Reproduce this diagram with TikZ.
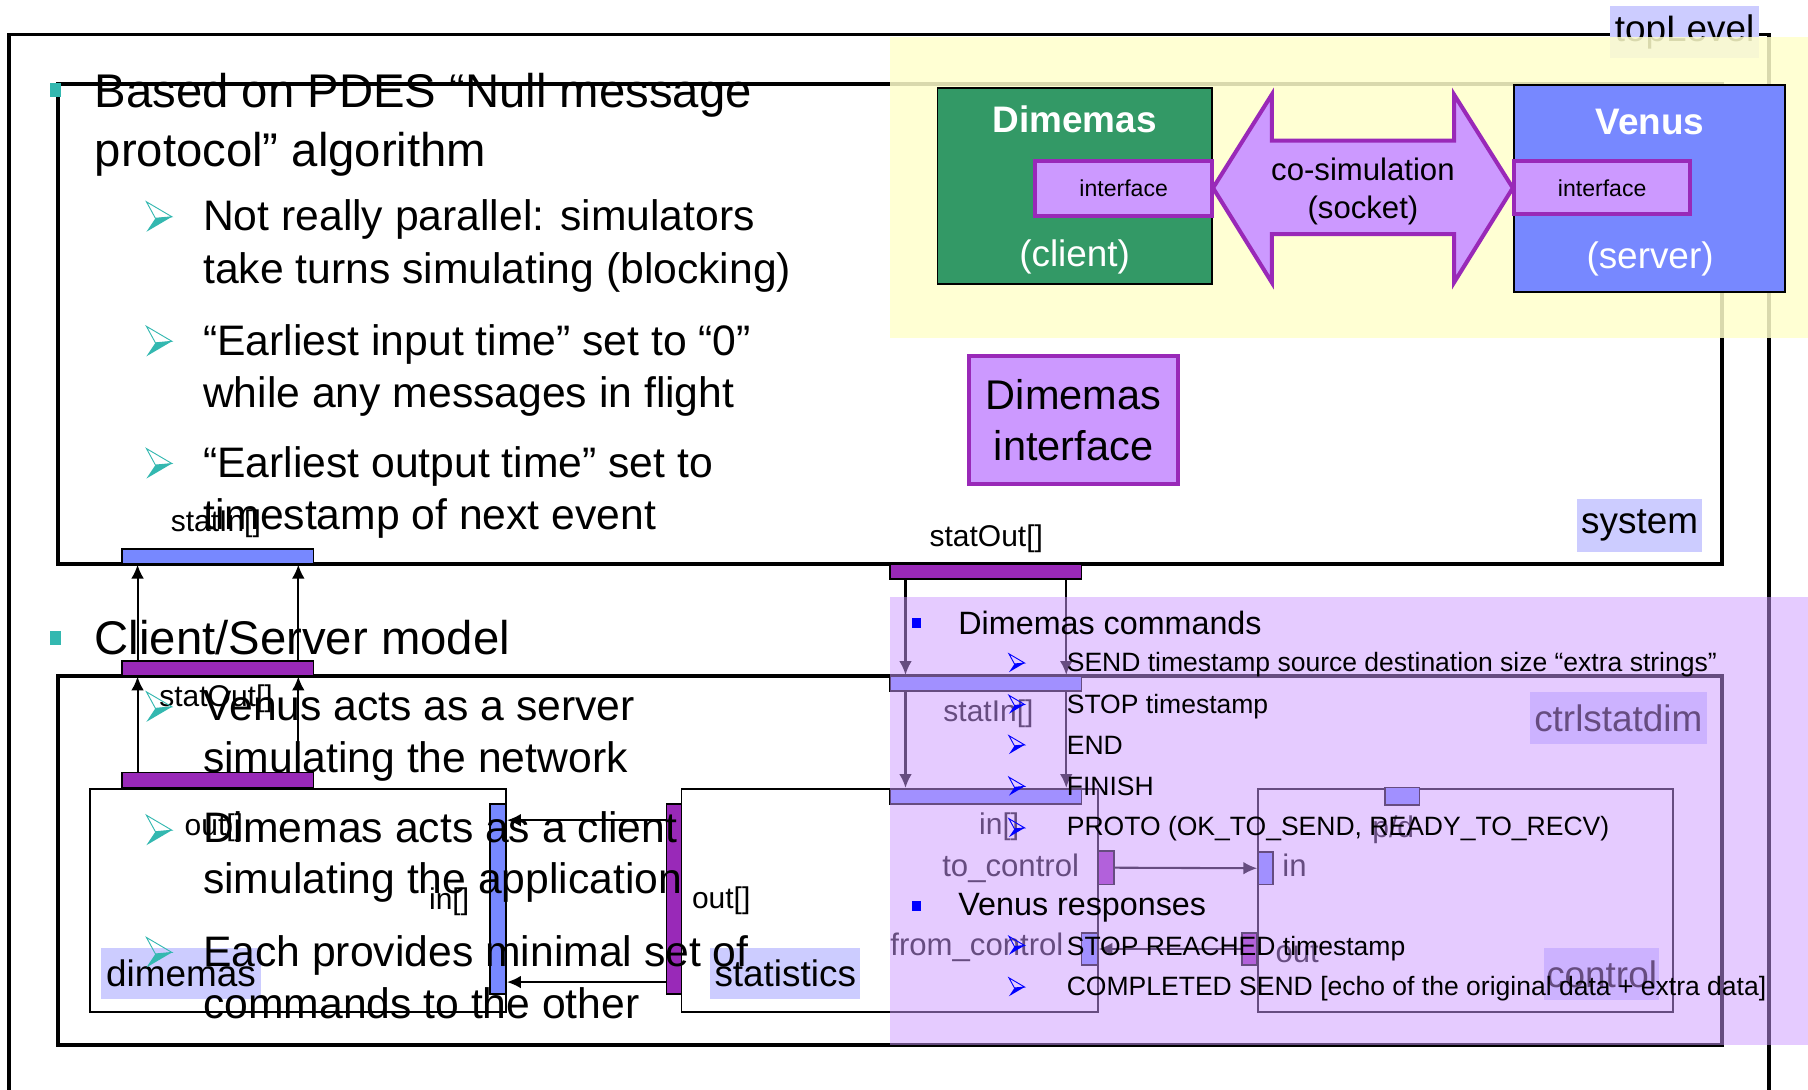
\documentclass[tikz,border=0pt]{standalone}
\usepackage{fontspec}
\setmainfont{Liberation Sans}
\usetikzlibrary{arrows.meta}

\definecolor{portblue}{RGB}{119,136,255}
\definecolor{portpurple}{RGB}{153,41,184}
\definecolor{lilac}{RGB}{204,153,255}
\definecolor{lblue}{RGB}{204,204,255}
\definecolor{dgreen}{RGB}{51,153,102}
\definecolor{paleyellow}{RGB}{255,255,204}
\definecolor{bullteal}{RGB}{51,184,176}
\definecolor{bullblue}{RGB}{0,0,255}

\newcommand{\fsz}[1]{\fontsize{#1}{#1}\selectfont}
% arrow-head bullet: x, y (centre), half height, colour
\newcommand{\arrowbul}[4]{%
  \draw[#4,line width=0.8pt,line join=miter] (#1,#2-#3) -- (#1+1.7*#3,#2) -- (#1+0.6*#3,#2+0.1*#3) -- cycle;
  \fill[#4] (#1+0.6*#3,#2+0.1*#3) -- (#1+1.7*#3,#2) -- (#1,#2+#3) -- cycle;}

\begin{document}
\begin{tikzpicture}[x=1pt,y=-1pt,>={Latex[length=12pt,width=11pt]},
  bigbox/.style={draw,line width=3.5pt,inner sep=0pt},
  subbox/.style={draw,line width=1.6pt,inner sep=0pt},
  portb/.style={draw,line width=1.4pt,fill=portblue,inner sep=0pt},
  portp/.style={draw,line width=1.4pt,fill=portpurple,inner sep=0pt},
  lbl/.style={fill=lblue,inner sep=0pt,font=\fsz{32}},
  plabel/.style={anchor=base west,inner sep=0pt,font=\fsz{26}},
  head/.style={anchor=base west,inner sep=0pt,font=\fsz{41}},
  slide/.style={anchor=base west,inner sep=0pt,font=\fsz{37}},
  cmdhead/.style={anchor=base west,inner sep=0pt,font=\fsz{28}},
  cmd/.style={anchor=base west,inner sep=0pt,font=\fsz{23}},
  iface/.style={draw=portpurple,line width=3.5pt,fill=lilac,inner sep=0pt},
  link/.style={->,line width=1.8pt}]
\useasboundingbox (0,0) rectangle (1568,945);
\fill[white] (0,0) rectangle (1568,945);

% model frames
\draw[line width=3pt] (8,945) -- (8,30) -- (1534,30) -- (1534,945);
\node[lbl,minimum width=129pt,minimum height=45pt] (toplbl) at (1461,28) {topLevel};
\node[bigbox,minimum width=1443pt,minimum height=416pt] (system) at (771.5,281) {};
\node[lbl,minimum width=108pt,minimum height=46pt] (syslbl) at (1422,456) {system};
\node[bigbox,minimum width=1443pt,minimum height=320pt] (ctrlstatdim) at (771.5,746) {};
\node[lbl,minimum width=153pt,minimum height=45pt] (csdlbl) at (1403.5,623) {ctrlstatdim};
\node[subbox,minimum width=361pt,minimum height=194pt] (dimemas) at (258.5,781) {};
\node[lbl,minimum width=138pt,minimum height=44pt] (dimlbl) at (157,844) {dimemas};
\node[subbox,minimum width=361pt,minimum height=194pt] (statistics) at (771.5,781) {};
\node[lbl,minimum width=130pt,minimum height=44pt] (statlbl) at (681,844) {statistics};
\node[subbox,minimum width=360pt,minimum height=194pt] (control) at (1271,781) {};
\node[lbl,minimum width=100pt,minimum height=45pt] (ctrllbl) at (1389,845) {control};

% ports
\node[portb,minimum width=166pt,minimum height=13pt] (statin) at (189,482.5) {};
\node[portp,minimum width=166pt,minimum height=13pt] (statout) at (189,579.5) {};
\node[portp,minimum width=166pt,minimum height=13pt] (dimout) at (189,676.5) {};
\node[portb,minimum width=14pt,minimum height=165pt] (dimin) at (432,779.5) {};
\node[portp,minimum width=13pt,minimum height=165pt] (statsout) at (584.5,779.5) {};
\node[portp,minimum width=166pt,minimum height=13pt] (sysout) at (855,495.5) {};
\node[portb,minimum width=166pt,minimum height=13pt] (csdin) at (855,592.5) {};
\node[portb,minimum width=166pt,minimum height=13pt] (statsin) at (855,690.5) {};
\node[portp,minimum width=14pt,minimum height=29pt] (tocontrol) at (959,752.5) {};
\node[portb,minimum width=14pt,minimum height=28pt] (fromcontrol) at (945,823) {};
\node[portb,minimum width=13pt,minimum height=28pt] (ctrlin) at (1097.5,753) {};
\node[portp,minimum width=13pt,minimum height=28pt] (ctrlout) at (1083.5,823) {};
\node[portb,minimum width=30pt,minimum height=15pt] (ctrltop) at (1216,690.5) {};

% connections
\draw[link] ([xshift=14pt]dimout.north west) -- ([xshift=14pt]statout.south west);
\draw[link] ([xshift=-14pt]dimout.north east) -- ([xshift=-14pt]statout.south east);
\draw[link] ([xshift=14pt]statout.north west) -- ([xshift=14pt]statin.south west);
\draw[link] ([xshift=-14pt]statout.north east) -- ([xshift=-14pt]statin.south east);
\draw[link] ([yshift=-15pt]statsout.north west) -- ([yshift=-15pt]dimin.north east);
\draw[link] ([yshift=11pt]statsout.south west) -- ([yshift=11pt]dimin.south east);
\draw[link] ([xshift=14pt]sysout.south west) -- ([xshift=14pt]csdin.north west);
\draw[link] ([xshift=-14pt]sysout.south east) -- ([xshift=-14pt]csdin.north east);
\draw[link] ([xshift=14pt]csdin.south west) -- ([xshift=14pt]statsin.north west);
\draw[link] ([xshift=-14pt]csdin.south east) -- ([xshift=-14pt]statsin.north east);
\draw[link] (tocontrol.east) -- (ctrlin.west);
\draw[link] (ctrlout.west) -- (fromcontrol.east);

% port labels
\node[plabel] (statinlbl) at (148,461) {statIn[]};
\node[plabel] (statoutlbl) at (138,613) {statOut[]};
\node[plabel] (dimoutlbl) at (160,725) {out[]};
\node[plabel] (diminlbl) at (372,789) {in[]};
\node[plabel] (statsoutlbl) at (600,788) {out[]};
\node[plabel] (sysoutlbl) at (806,474) {statOut[]};
\node[plabel] (csdinlbl) at (818,626) {statIn[]};
\node[plabel] (statsinlbl) at (849,724) {in[]};
\node[plabel,font=\fsz{27}] (tocontrollbl) at (817,760) {to\_control};
\node[plabel,font=\fsz{27}] (fromcontrollbl) at (772,829) {from\_control};
\node[plabel,font=\fsz{27}] (ctrlinlbl) at (1112,760) {in};
\node[plabel,font=\fsz{27}] (ctrloutlbl) at (1106,835) {out};
\node[plabel] (ctrltoplbl) at (1190,726) {p/d};

% slide text, left column
\fill[bullteal] (43,72) rectangle (53,84);
\node[head] (b1a) at (82,93) {Based on PDES “Null message};
\node[head] (b1b) at (82,144) {protocol” algorithm};
\arrowbul{127}{188}{13}{bullteal}
\node[slide] (s1a) at (176,200) {Not really parallel: simulators};
\node[slide] (s1b) at (176,246) {take turns simulating (blocking)};
\arrowbul{127}{296}{13}{bullteal}
\node[slide] (s2a) at (176,308) {“Earliest input time” set to “0”};
\node[slide] (s2b) at (176,353) {while any messages in flight};
\arrowbul{127}{402}{13}{bullteal}
\node[slide] (s3a) at (176,414) {“Earliest output time” set to};
\node[slide] (s3b) at (176,459) {timestamp of next event};
\fill[bullteal] (43,547) rectangle (53,559);
\node[head] (b2a) at (82,568) {Client/Server model};
\arrowbul{127}{613}{13}{bullteal}
\node[slide] (s4a) at (176,625) {Venus acts as a server};
\node[slide] (s4b) at (176,670) {simulating the network};
\arrowbul{127}{720}{13}{bullteal}
\node[slide] (s5a) at (176,731) {Dimemas acts as a client};
\node[slide] (s5b) at (176,775) {simulating the application};
\arrowbul{127}{826}{13}{bullteal}
\node[slide] (s6a) at (176,838) {Each provides minimal set of};
\node[slide] (s6b) at (176,883) {commands to the other};

% co-simulation picture
\fill[paleyellow,opacity=0.85] (772,32) rectangle (1568,293);
\node[draw,line width=1.6pt,fill=dgreen,minimum width=238pt,minimum height=170pt] (dimbox) at (932,161) {};
\node[anchor=base,inner sep=0pt,text=white,font=\fsz{32}\bfseries] (dimname) at (932,115) {Dimemas};
\node[anchor=base,inner sep=0pt,text=white,font=\fsz{32}] (dimrole) at (932,231) {(client)};
\node[draw,line width=1.6pt,fill=portblue,minimum width=235pt,minimum height=179pt] (venbox) at (1430.5,163.5) {};
\node[anchor=base,inner sep=0pt,text=white,font=\fsz{32}\bfseries] (venname) at (1431,117) {Venus};
\node[anchor=base,inner sep=0pt,text=white,font=\fsz{32}] (venrole) at (1431,233) {(server)};
\draw[portpurple,fill=lilac,line width=3.5pt,line join=miter]
  (1052,163) -- (1103,82) -- (1103,122) -- (1261,122) -- (1261,82) -- (1312,163)
  -- (1261,245) -- (1261,203) -- (1103,203) -- (1103,245) -- cycle;
\node[align=center,inner sep=0pt,font=\fontsize{27}{33}\selectfont] (cosim) at (1182,166) {co-simulation\\(socket)};
\node[iface,minimum width=153pt,minimum height=47pt,font=\fsz{20}] (dimif) at (974.5,163.5) {interface};
\node[iface,minimum width=153pt,minimum height=46pt,font=\fsz{20}] (venif) at (1389.5,163) {interface};

\node[iface,minimum width=182pt,minimum height=111pt,align=center,font=\fontsize{36}{44}\selectfont] (dimiface) at (931,364.5) {Dimemas\\interface};

% command list
\fill[lilac,opacity=0.5] (772,518) rectangle (1568,906);
\fill[bullblue] (791,536) rectangle (799,545);
\node[cmdhead] (cmds) at (831,550) {Dimemas commands};
\arrowbul{875}{575}{8}{bullblue}
\node[cmd] (c1) at (925,582) {SEND timestamp source destination size “extra strings”};
\arrowbul{875}{611}{8}{bullblue}
\node[cmd] (c2) at (925,619) {STOP timestamp};
\arrowbul{875}{646}{8}{bullblue}
\node[cmd] (c3) at (925,654) {END};
\arrowbul{875}{682}{8}{bullblue}
\node[cmd] (c4) at (925,690) {FINISH};
\arrowbul{875}{718}{8}{bullblue}
\node[cmd] (c5) at (925,725) {PROTO (OK\_TO\_SEND, READY\_TO\_RECV)};
\fill[bullblue] (791,781) rectangle (799,790);
\node[cmdhead] (resps) at (831,794) {Venus responses};
\arrowbul{875}{820}{8}{bullblue}
\node[cmd] (r1) at (925,829) {STOP REACHED timestamp};
\arrowbul{875}{856}{8}{bullblue}
\node[cmd] (r2) at (925,863) {COMPLETED SEND [echo of the original data + extra data]};
\end{tikzpicture}
\end{document}
